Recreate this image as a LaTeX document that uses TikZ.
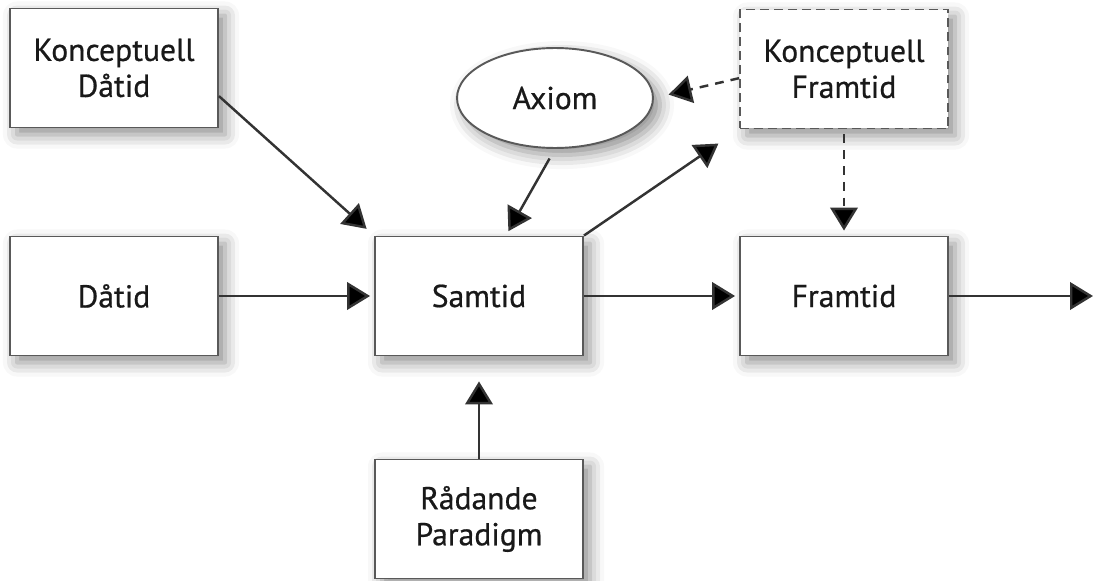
\documentclass[tikz,border=0pt]{standalone}
\usepackage{fontspec}
\setmainfont{PT Sans}
\newfontfamily\boxfont{PT Sans}[FakeBold=0.6]
\usetikzlibrary{shapes.geometric,arrows.meta,shadows.blur}
\usepackage{xcolor}

\begin{document}
\begin{tikzpicture}
    \tikzset{
        x={(0.02cm,0cm)},
        y={(0cm,-0.02cm)},
        box/.style={rectangle,draw=black!65,line width=1.1pt,fill=white,
            minimum width=4.16cm,minimum height=2.38cm,align=center,
            text=black!90,font=\boxfont\fontsize{18}{20.5}\selectfont,
            blur shadow={shadow xshift=4pt,shadow yshift=-4pt,
                shadow blur radius=8pt,shadow opacity=45},},
        dashbox/.style={box,dashed,dash pattern=on 5pt off 3pt},
        oval/.style={box,ellipse,minimum width=3.92cm,minimum height=2cm},
        flow/.style={line width=1.4pt,draw=black!80,
            -{Triangle[length=0.46cm,width=0.55cm,fill=black]}},
        dflow/.style={flow,dashed,dash pattern=on 5pt off 4pt},
    }
    \useasboundingbox (0,0) rectangle (1093,581);
    \node[box] (kdatid) at (114,68) {Konceptuell\\Dåtid};
    \node[box] (datid) at (114,296) {Dåtid};
    \node[box] (samtid) at (479,296) {Samtid};
    \node[box] (framtid) at (844,296) {Framtid};
    \node[box] (paradigm) at (479,519) {Rådande\\Paradigm};
    \node[oval] (axiom) at (555,98) {Axiom};
    \node[dashbox] (kframtid) at (844,69) {Konceptuell\\Framtid};
    \coordinate (ut) at (1093,296);
    % arrows
    \draw[flow,shorten >=0.2cm] (kdatid.-15) -- (samtid.north west);
    \draw[flow,shorten >=0.08cm] (datid) -- (samtid);
    \draw[flow,shorten <=0.22cm,shorten >=0.1cm] (axiom.south) -- (samtid.66);
    \draw[flow,shorten >=0.5cm] (samtid.north east) -- (kframtid.south west);
    \draw[flow,shorten >=0.08cm] (samtid) -- (framtid);
    \draw[flow] (framtid) -- (ut);
    \draw[flow,shorten >=0.5cm] (paradigm) -- (samtid);
    \draw[dflow,shorten >=0.3cm] (kframtid.185) -- (axiom.east);
    \draw[dflow,shorten <=0.1cm,shorten >=0.1cm] (kframtid) -- (framtid);
\end{tikzpicture}
\end{document}
